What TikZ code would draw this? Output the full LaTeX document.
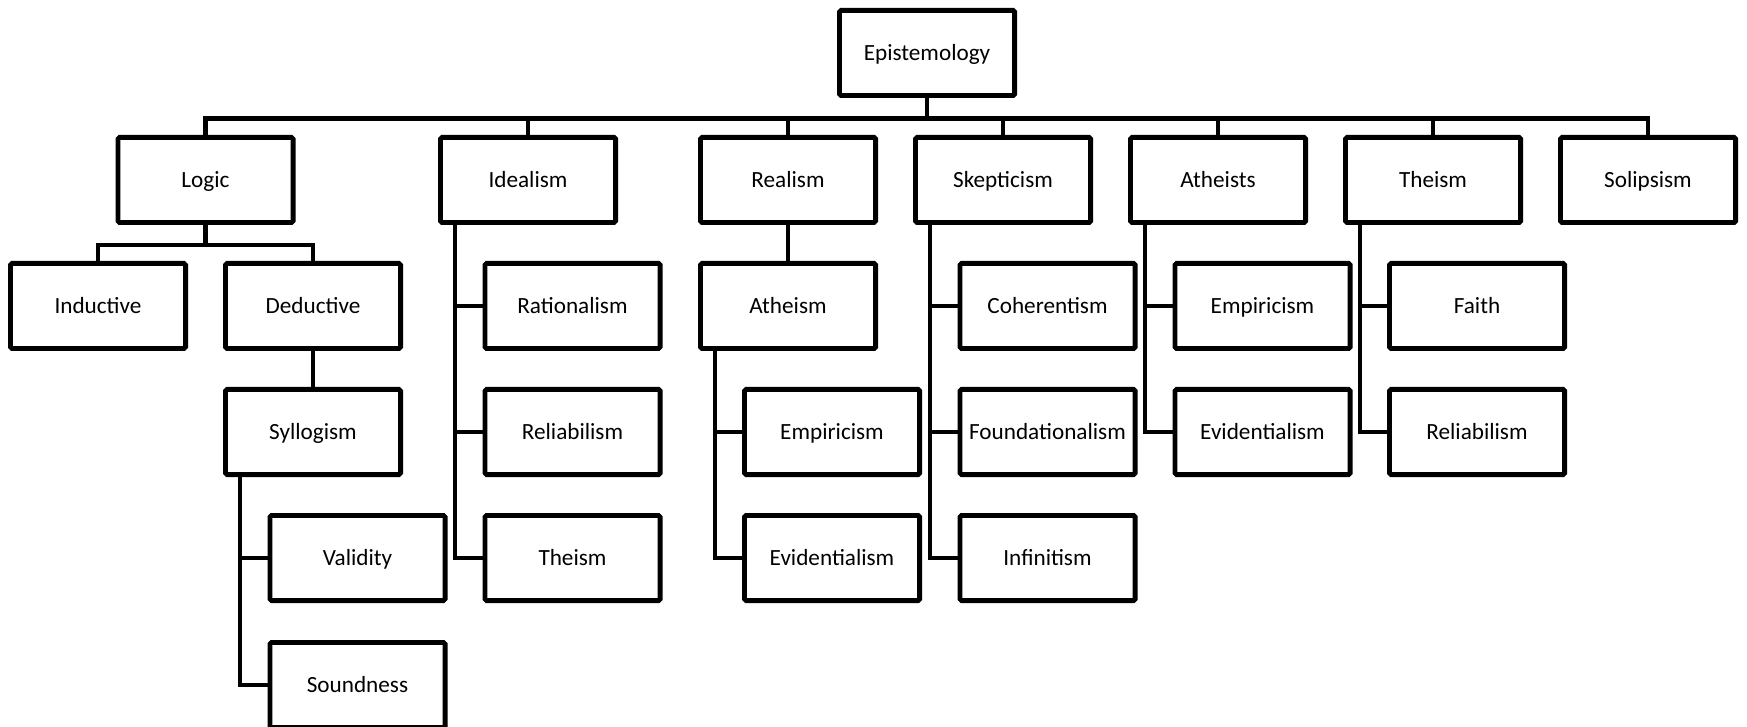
\documentclass[tikz,border=0pt]{standalone}
\usepackage{fontspec}
\setmainfont{Carlito}
\begin{document}
\begin{tikzpicture}[x=0.5pt, y=-0.5pt]
\tikzset{
  topic/.style={draw, line width=2.4pt, rounded corners=0.8pt,
    minimum width=87.6pt, minimum height=42.6pt,
    inner sep=0pt, text height=10pt, text depth=2.5pt,
    font=\fontsize{11.6}{14}\selectfont},
  link/.style={line width=2.3pt}
}
\useasboundingbox (0,0) rectangle (1747,727);

\node[topic] (epi) at (927,53) {Epistemology};

% first row
\node[topic] (logic) at (205.5,180) {Logic};
\node[topic] (ideal) at (528,180) {Idealism};
\node[topic] (real) at (788,180) {Realism};
\node[topic] (skep) at (1003,180) {Skepticism};
\node[topic] (athts) at (1218,180) {Atheists};
\node[topic] (theism) at (1433,180) {Theism};
\node[topic] (solip) at (1648,180) {Solipsism};

% second row
\node[topic] (induct) at (98,306) {Inductive};
\node[topic] (deduct) at (313,306) {Deductive};
\node[topic] (ratio) at (572.5,306) {Rationalism};
\node[topic] (atheism) at (788,306) {Atheism};
\node[topic] (coher) at (1047.5,306) {Coherentism};
\node[topic] (empirA) at (1262.5,306) {Empiricism};
\node[topic] (faith) at (1477,306) {Faith};

% third row
\node[topic] (syllog) at (313,432) {Syllogism};
\node[topic] (reliab) at (572.5,432) {Reliabilism};
\node[topic] (empir) at (832,432) {Empiricism};
\node[topic] (found) at (1047.5,432) {Foundationalism};
\node[topic] (evidA) at (1262.5,432) {Evidentialism};
\node[topic] (reliabT) at (1477,432) {Reliabilism};

% fourth and fifth row
\node[topic] (valid) at (357.5,558) {Validity};
\node[topic] (theismI) at (572.5,558) {Theism};
\node[topic] (evid) at (832,558) {Evidentialism};
\node[topic] (infin) at (1047.5,558) {Infinitism};
\node[topic] (sound) at (357.5,685) {Soundness};

% bus lines
\foreach \c in {logic,ideal,real,skep,athts,theism,solip}
  \draw[link] (epi.south) -- ++(0,20.5) -| (\c.north);
\foreach \c in {induct,deduct}
  \draw[link] (logic.south) -- ++(0,20) -| (\c.north);

\draw[link] (deduct) -- (syllog);
\draw[link] (real) -- (atheism);

% side branches
\foreach \c in {valid,sound}
  \draw[link] ([xshift=8.5pt]syllog.south west) |- (\c.west);
\foreach \c in {ratio,reliab,theismI}
  \draw[link] ([xshift=8.5pt]ideal.south west) |- (\c.west);
\foreach \c in {empir,evid}
  \draw[link] ([xshift=8.5pt]atheism.south west) |- (\c.west);
\foreach \c in {coher,found,infin}
  \draw[link] ([xshift=8.5pt]skep.south west) |- (\c.west);
\foreach \c in {empirA,evidA}
  \draw[link] ([xshift=8.5pt]athts.south west) |- (\c.west);
\foreach \c in {faith,reliabT}
  \draw[link] ([xshift=8.5pt]theism.south west) |- (\c.west);

\end{tikzpicture}
\end{document}
